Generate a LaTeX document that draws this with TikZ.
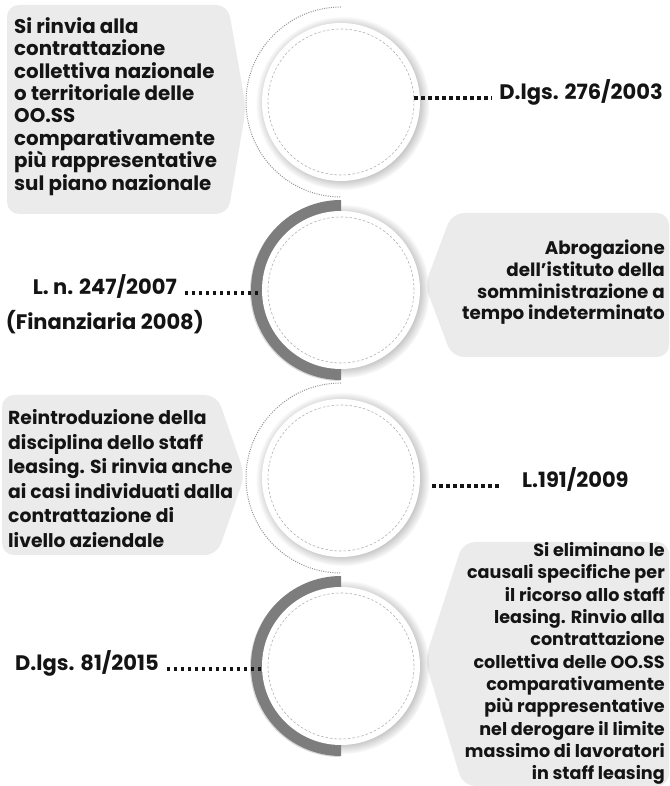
\documentclass[tikz,border=0pt]{standalone}
\usepackage{fontspec}
\setmainfont{Poppins}
\usepackage{xcolor}
\usepackage{tikz}
\usetikzlibrary{positioning,shadows}
\definecolor{boxgray}{RGB}{235,235,235}
\definecolor{arcgray}{RGB}{125,125,125}
\definecolor{inkblack}{RGB}{20,20,20}
\tikzstyle{disc} = [circle,fill=white,minimum size=158pt,inner sep=0pt,circular drop shadow={shadow xshift=1.5pt,shadow yshift=-1pt,shadow scale=1.1,opacity=0.55}]
\tikzstyle{ring} = [circle,draw=gray!60,line width=0.6pt,dash pattern=on 2.5pt off 2pt,minimum size=146pt,inner sep=0pt]
\tikzstyle{dotline} = [inkblack,line width=3.4pt,dash pattern=on 3.4pt off 3.6pt]
\tikzstyle{dotarc} = [gray!85,line width=1pt,dash pattern=on 1pt off 1.3pt]
\tikzstyle{bubble} = [fill=boxgray,rounded corners=12pt]
\tikzstyle{note} = [inner sep=0pt,text=inkblack]
\tikzstyle{law} = [inner sep=0pt,text=inkblack,font=\fontsize{21}{25}\selectfont\bfseries]

\begin{document}
\begin{tikzpicture}[x=1pt,y=1pt]
	\useasboundingbox (0,0) rectangle (669,786);
	\fill[white] (0,0) rectangle (669,786);

	% Boxes:
	% Grey boxes with a point towards the circle
	\fill[bubble] (7,781) -- (228,781) -- (246,678) -- (228,572) -- (7,572) -- cycle;
	\fill[bubble] (669,573) -- (452,573) -- (425,501) -- (452,429) -- (669,429) -- cycle;
	\fill[bubble] (2,391) -- (217,391) -- (245,311) -- (217,231) -- (2,231) -- cycle;
	\fill[bubble] (669,244) -- (463,244) -- (425,126) -- (463,0) -- (669,0) -- cycle;

	% Half rings on the left side:
	% dotted for the first and third circle, grey band for the second and fourth
	\draw[dotarc] (341,779) arc[start angle=90,end angle=270,radius=95];
	\fill[arcgray,drop shadow={shadow xshift=-1pt,shadow yshift=-1pt,opacity=0.3}] (341,586) arc[start angle=90,end angle=270,radius=90] -- cycle;
	\draw[dotarc] (341,403) arc[start angle=90,end angle=270,radius=95];
	\fill[arcgray,drop shadow={shadow xshift=-1pt,shadow yshift=-1pt,opacity=0.3}] (341,210) arc[start angle=90,end angle=270,radius=90] -- cycle;

	% Circles:
	\node[disc] (c1) at (341,684) {};
	\node[disc] (c2) at (341,496) {};
	\node[disc] (c3) at (341,308) {};
	\node[disc] (c4) at (341,120) {};
	\node[ring] (r1) at (c1) {};
	\node[ring] (r2) at (c2) {};
	\node[ring] (r3) at (c3) {};
	\node[ring] (r4) at (c4) {};

	% Texts in the boxes:
	\node[note,anchor=west,align=left,font=\fontsize{19.8}{22.4}\selectfont\bfseries] (t1) at (14,679.5)
		{Si rinvia alla\\contrattazione\\collettiva nazionale\\o territoriale delle\\OO.SS\\comparativamente\\più rappresentative\\sul piano nazionale};
	\node[note,anchor=east,align=right,font=\fontsize{18.3}{21.7}\selectfont\bfseries] (t2) at (665,503.5)
		{Abrogazione\\dell’istituto della\\somministrazione a\\tempo indeterminato};
	\node[note,anchor=west,align=left,font=\fontsize{18.8}{24.5}\selectfont\bfseries] (t3) at (8,307.5)
		{Reintroduzione della\\disciplina dello staff\\leasing. Si rinvia anche\\ai casi individuati dalla\\contrattazione di\\livello aziendale};
	\node[note,anchor=east,align=right,font=\fontsize{17.6}{22.3}\selectfont\bfseries] (t4) at (665,122.5)
		{Si eliminano le\\causali specifiche per\\il ricorso allo staff\\leasing. Rinvio alla\\contrattazione\\collettiva delle OO.SS\\comparativamente\\più rappresentative\\nel derogare il limite\\massimo di lavoratori\\in staff leasing};

	% Laws:
	\node[law,anchor=base east] (l1) at (663,686) {D.lgs. 276/2003};
	\node[law,anchor=base east] (l2) at (177,491) {L. n. 247/2007};
	\node[law,below=11pt of l2] (l2b) {(Finanziaria 2008)};
	\node[law,anchor=base west] (l3) at (522,298) {L.191/2009};
	\node[law,anchor=base west] (l4) at (15,115) {D.lgs. 81/2015};

	% Dotted leaders from the circles to the laws
	\coordinate (d1) at ([yshift=2pt]l1.base west);
	\coordinate (d2) at ([yshift=2pt]l2.base east);
	\coordinate (d3) at ([yshift=2pt]l3.base west);
	\coordinate (d4) at ([yshift=2pt]l4.base east);
	\draw[dotline,shorten >=7pt] (d1 -| r1.east) -- (d1);
	\draw[dotline,shorten <=8pt] (d2) -- (d2 -| c2.west);
	\draw[dotline,shorten <=12pt,shorten >=20pt] (d3 -| c3.east) -- (d3);
	\draw[dotline,shorten <=8pt] (d4) -- (d4 -| c4.west);
\end{tikzpicture}
\end{document}
